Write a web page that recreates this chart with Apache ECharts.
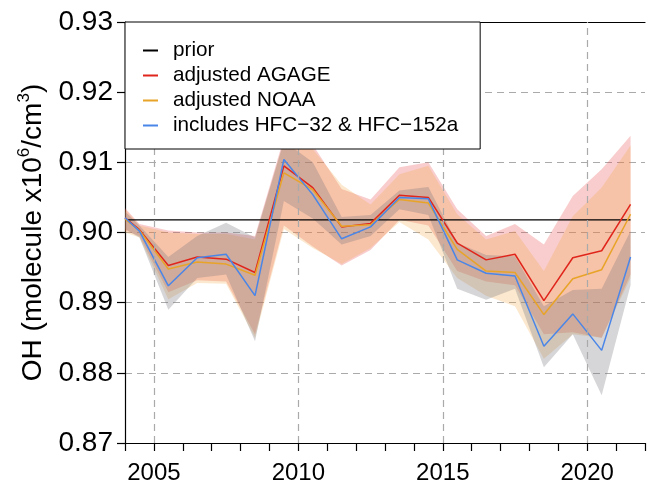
<!DOCTYPE html>
<html>
<head>
<meta charset="utf-8">
<script src="https://cdn.jsdelivr.net/npm/echarts@6/dist/echarts.min.js"></script>
<style>
html,body{margin:0;padding:0;background:#fff;}
#chart{width:648px;height:486px;}
</style>
</head>
<body>
<div id="chart"></div>
<script>
// ---- data ----
const years = [2004.0, 2004.5, 2005.5, 2006.5, 2007.5, 2008.5, 2009.5, 2010.5, 2011.5, 2012.5, 2013.5, 2014.5, 2015.5, 2016.5, 2017.5, 2018.5, 2019.5, 2020.5, 2021.5];
const prior = [0.9018, 0.9018, 0.9018, 0.9018, 0.9018, 0.9018, 0.9018, 0.9018, 0.9018, 0.9018, 0.9018, 0.9018, 0.9018, 0.9018, 0.9018, 0.9018, 0.9018, 0.9018, 0.9018];
const agage = [0.9021, 0.9004, 0.8953, 0.8965, 0.8962, 0.8943, 0.9095, 0.9064, 0.9008, 0.9013, 0.9053, 0.9050, 0.8985, 0.8961, 0.8969, 0.8903, 0.8964, 0.8974, 0.9040];
const noaa  = [0.9019, 0.9003, 0.8948, 0.8958, 0.8955, 0.8939, 0.9085, 0.9061, 0.9009, 0.9011, 0.9047, 0.9042, 0.8976, 0.8945, 0.8943, 0.8883, 0.8934, 0.8947, 0.9026];
const hfc   = [0.9021, 0.9002, 0.8924, 0.8964, 0.8969, 0.8910, 0.9104, 0.9054, 0.8991, 0.9008, 0.9050, 0.9048, 0.8961, 0.8942, 0.8938, 0.8838, 0.8884, 0.8832, 0.8965];
const agageLo = [0.9003, 0.8995, 0.8915, 0.8932, 0.8930, 0.8855, 0.9010, 0.8980, 0.8953, 0.8975, 0.9018, 0.9010, 0.8945, 0.8930, 0.8925, 0.8855, 0.8858, 0.8850, 0.8940];
const agageHi = [0.9035, 0.9012, 0.9003, 0.9000, 0.9000, 0.8995, 0.9135, 0.9125, 0.9062, 0.9047, 0.9093, 0.9100, 0.9033, 0.8995, 0.9012, 0.8983, 0.9052, 0.9090, 0.9138];
const noaaLo  = [0.9000, 0.8993, 0.8905, 0.8928, 0.8927, 0.8850, 0.9005, 0.8978, 0.8955, 0.8978, 0.9015, 0.8990, 0.8935, 0.8910, 0.8895, 0.8820, 0.8855, 0.8850, 0.8935];
const noaaHi  = [0.9033, 0.9010, 0.9000, 0.8998, 0.8998, 0.8990, 0.9130, 0.9119, 0.9068, 0.9040, 0.9083, 0.9095, 0.9026, 0.8990, 0.9002, 0.8945, 0.9023, 0.9064, 0.9124];
const hfcLo   = [0.9005, 0.8993, 0.8890, 0.8935, 0.8940, 0.8845, 0.9045, 0.9020, 0.8983, 0.8995, 0.9033, 0.9025, 0.8920, 0.8904, 0.8920, 0.8808, 0.8855, 0.8768, 0.8925];
const hfcHi   = [0.9030, 0.9010, 0.8965, 0.8995, 0.9014, 0.8993, 0.9130, 0.9100, 0.9022, 0.9025, 0.9060, 0.9065, 0.8985, 0.8968, 0.8966, 0.8895, 0.8918, 0.8920, 0.9002];
const gridYears = [2005, 2010, 2015, 2020];
const seriesNames = ['prior', 'adjusted AGAGE', 'adjusted NOAA', 'includes HFC\u221232 & HFC\u2212152a'];

// ---- chart ----
const FONT = '"Liberation Sans", Arial, Helvetica, sans-serif';
const pairs = (ys) => years.map((x, i) => [x, ys[i]]);

function band(name, lo, hi, fill) {
  const data = years.map((x, i) => [x, lo[i], hi[i]]);
  return {
    type: 'custom', name: name, silent: true, z: 1,
    data: data,
    encode: { x: 0, y: [1, 2] },
    renderItem: function (params, api) {
      if (params.dataIndex !== 0) return null;
      const pts = [];
      for (let i = 0; i < data.length; i++) pts.push(api.coord([data[i][0], data[i][1]]));
      for (let i = data.length - 1; i >= 0; i--) pts.push(api.coord([data[i][0], data[i][2]]));
      return { type: 'polygon', shape: { points: pts }, style: { fill: fill } };
    }
  };
}

function line(name, ys, color, width, extra) {
  return Object.assign({
    type: 'line', name: name, data: pairs(ys), showSymbol: false, symbol: 'none',
    z: 3, silent: true, animation: false,
    lineStyle: { color: color, width: width },
    itemStyle: { color: color }
  }, extra || {});
}

const chart = echarts.init(document.getElementById('chart'), null, { renderer: 'canvas' });
const legendIcon = 'path://M0,0L15,0L15,2L0,2Z M25,0L25,2';

chart.setOption({
  animation: false,
  backgroundColor: '#fff',
  textStyle: { fontFamily: FONT, color: '#000' },
  grid: { left: 125, right: -1, top: 22, bottom: 43 },
  legend: {
    data: seriesNames,
    orient: 'vertical',
    left: 125, top: 22,
    padding: [18, 22, 13, 18],
    itemGap: 4,
    itemWidth: 25, itemHeight: 2,
    icon: legendIcon,
    backgroundColor: '#fff',
    borderColor: '#000', borderWidth: 1, borderRadius: 0,
    textStyle: { fontFamily: FONT, fontSize: 20.7, color: '#000' },
    selectedMode: false,
    z: 10
  },
  xAxis: [{
    type: 'value', min: 2004, max: 2022, interval: 1,
    axisLine: { show: true, lineStyle: { color: '#000', width: 1.2 } },
    axisTick: { show: true, inside: false, length: 8, lineStyle: { color: '#000', width: 1.2 } },
    axisLabel: {
      fontFamily: FONT, fontSize: 24, color: '#000', margin: 18,
      formatter: (v) => (Math.round(v) % 5 === 0 && Math.abs(v - Math.round(v)) < 1e-6) ? String(Math.round(v)) : ''
    },
    splitLine: { show: false }
  }, {
    type: 'value', position: 'top', min: 2004, max: 2022,
    axisLine: { show: true, onZero: false, lineStyle: { color: '#000', width: 1.2 } },
    axisTick: { show: false }, axisLabel: { show: false }, splitLine: { show: false }
  }],
  yAxis: {
    type: 'value', min: 0.87, max: 0.93, interval: 0.01,
    name: '{n|OH (molecule x10}{s|6}{n|/cm}{s|3}{n|)}',
    nameLocation: 'middle', nameGap: 75, nameRotate: 90,
    nameTextStyle: {
      fontFamily: FONT, color: '#000',
      rich: {
        n: { fontFamily: FONT, fontSize: 28, color: '#000', lineHeight: 32, verticalAlign: 'bottom' },
        s: { fontFamily: FONT, fontSize: 17, color: '#000', lineHeight: 32, verticalAlign: 'top', padding: [0, 0, 12, 0] }
      }
    },
    axisLine: { show: true, lineStyle: { color: '#000', width: 1.2 } },
    axisTick: { show: true, inside: false, length: 8, lineStyle: { color: '#000', width: 1.2 } },
    axisLabel: { fontFamily: FONT, fontSize: 28, color: '#000', margin: 12, formatter: (v) => v.toFixed(2) },
    splitLine: { show: true, lineStyle: { color: '#aaaaaa', type: [7, 5], width: 1.2 } }
  },
  series: [
    band('band AGAGE', agageLo, agageHi, 'rgba(235,75,75,0.28)'),
    band('band NOAA', noaaLo, noaaHi, 'rgba(240,165,60,0.25)'),
    band('band HFC', hfcLo, hfcHi, 'rgba(118,115,122,0.30)'),
    line(seriesNames[0], prior, '#000000', 1.2, {
      markLine: {
        silent: true, symbol: 'none', animation: false,
        label: { show: false },
        lineStyle: { color: '#aaaaaa', type: [7, 5], width: 1.2 },
        data: gridYears.map((y) => ({ xAxis: y }))
      }
    }),
    line(seriesNames[1], agage, '#e0261c', 1.5),
    line(seriesNames[2], noaa, '#e8a428', 1.5),
    line(seriesNames[3], hfc, '#4a86e8', 1.5)
  ]
});
</script>
</body>
</html>
